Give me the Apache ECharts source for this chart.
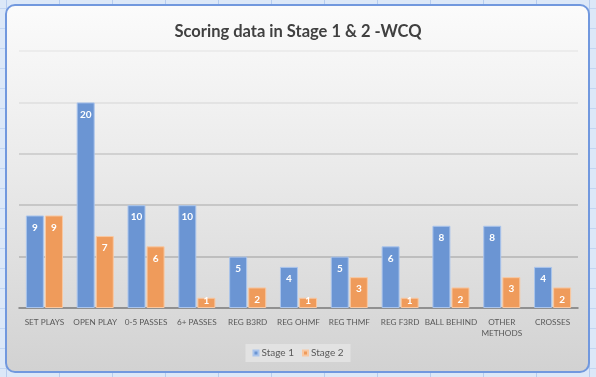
<!DOCTYPE html>
<html>
<head>
<meta charset="utf-8">
<script src="https://cdn.jsdelivr.net/npm/echarts@6/dist/echarts.min.js"></script>
<style>
  html, body { margin: 0; padding: 0; }
  body {
    width: 596px; height: 377px; overflow: hidden; position: relative;
    background-color: #dce8f8;
    background-image:
      linear-gradient(to right, #b7cdef 1px, transparent 1px),
      linear-gradient(to bottom, #c3d6f2 1px, transparent 1px);
    background-size: 53px 100%, 100% 20px;
    background-position: 6px 0, 0 8px;
  }
  #frame {
    position: absolute; left: 5px; top: 4px; width: 581px; height: 365px;
    border: 2px solid #7198de; border-radius: 10px;
    background: linear-gradient(to bottom, #fbfbfb 0%, #eaeaea 45%, #d2d2d2 100%);
  }
  #main { position: absolute; left: 0; top: 0; width: 596px; height: 377px; }
</style>
</head>
<body>
<div id="frame"></div>
<div id="main"></div>
<script>
// 类目
var categories = ['SET PLAYS', 'OPEN PLAY', '0-5 PASSES', '6+ PASSES', 'REG B3RD', 'REG OHMF',
                  'REG THMF', 'REG F3RD', 'BALL BEHIND', 'OTHER\nMETHODS', 'CROSSES'];
// 两个阶段的进球数
var stage1 = [9, 20, 10, 10, 5, 4, 5, 6, 8, 8, 4];
var stage2 = [9, 7, 6, 1, 2, 1, 3, 1, 2, 3, 2];
var seriesNames = ['Stage 1', 'Stage 2'];

var myChart = echarts.init(document.getElementById('main'));

var barLabel = {
	show: true,
	position: 'insideTop',
	distance: 7,
	color: '#ffffff',
	fontSize: 10,
	fontWeight: 'bold',
	fontFamily: 'Lato'
};

// 矮柱子的标签往上挪一点，和原图一致
function toItems(arr) {
	return arr.map(function (v) {
		if (v <= 1) {
			return { value: v, label: { offset: [0, -9] } };
		}
		return v;
	});
}

var option = {
	animation: false,
	title: {
		text: 'Scoring data in Stage 1 & 2 -WCQ',
		left: 'center',
		top: 18,
		textStyle: { fontFamily: 'Lato', fontSize: 16.5, fontWeight: 'bold', color: '#404040' }
	},
	legend: {
		data: seriesNames,
		bottom: 15,
		left: 'center',
		backgroundColor: '#e2e2e2',
		padding: [4, 7],
		itemWidth: 5,
		itemHeight: 5,
		itemGap: 8,
		icon: 'rect',
		textStyle: { fontFamily: 'Lato', fontSize: 10, color: '#595959', padding: [0, 0, 0, -2] }
	},
	grid: { left: 19, right: 18, top: 51, bottom: 69 },
	xAxis: {
		type: 'category',
		data: categories,
		axisTick: { show: false },
		axisLine: { lineStyle: { color: '#7a7a7a', width: 1.5 } },
		axisLabel: { interval: 0, margin: 9, fontSize: 8.2, color: '#595959', fontFamily: 'Lato', lineHeight: 11 }
	},
	yAxis: {
		type: 'value',
		min: 0,
		max: 25,
		interval: 5,
		axisLabel: { show: false },
		axisLine: { show: false },
		axisTick: { show: false },
		splitLine: {
			lineStyle: {
				width: 1.5,
				color: ['#d0d0d0', '#b3b3b3', '#bcbcbc', '#c9c9c9', '#dedede', '#e9e9e9']
			}
		}
	},
	series: [
		{
			name: seriesNames[0],
			type: 'bar',
			data: toItems(stage1),
			barWidth: 18,
			barGap: '6%',
			itemStyle: { color: '#6b95d3', borderColor: '#abc5ec', borderWidth: 1 },
			label: barLabel
		},
		{
			name: seriesNames[1],
			type: 'bar',
			data: toItems(stage2),
			barWidth: 18,
			itemStyle: { color: '#ef9b5b', borderColor: '#f8c8a2', borderWidth: 1 },
			label: barLabel
		}
	]
};

myChart.setOption(option);
</script>
</body>
</html>
